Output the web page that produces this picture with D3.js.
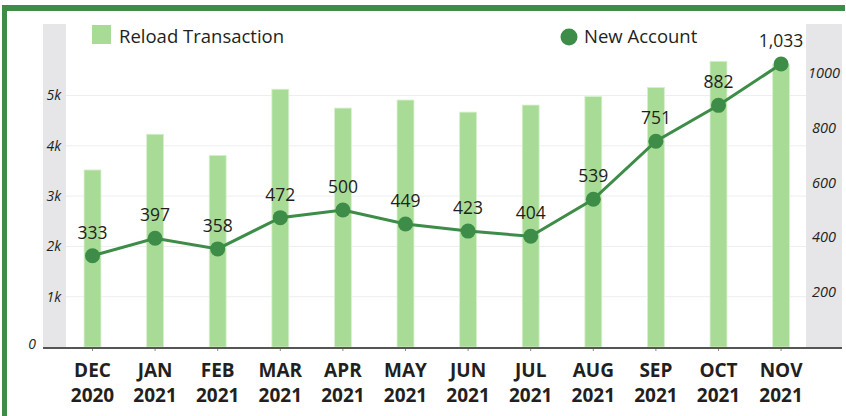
<!DOCTYPE html>
<html><head><meta charset="utf-8">
<script src="https://cdn.jsdelivr.net/npm/d3@7"></script>
<style>body{margin:0;background:#fff}svg{display:block}text{font-family:"Open Sans",sans-serif;fill:#231f20}</style>
</head><body>
<svg id="c" width="846" height="416"></svg>
<script>
const months = ["DEC","JAN","FEB","MAR","APR","MAY","JUN","JUL","AUG","SEP","OCT","NOV"];
const years = ["2020","2021","2021","2021","2021","2021","2021","2021","2021","2021","2021","2021"];
const reloadTransaction = [3520, 4230, 3810, 5125, 4750, 4910, 4670, 4810, 4980, 5160, 5680, 5620];
const newAccount = [333, 397, 358, 472, 500, 449, 423, 404, 539, 751, 882, 1033];
const leftTicks = [1000, 2000, 3000, 4000, 5000];
const leftTickLabels = ["1k", "2k", "3k", "4k", "5k"];
const zeroLabel = "0";
const rightTicks = [200, 400, 600, 800, 1000];

const svg = d3.select("#c");
const green = "#3d8c47", barCol = "#a8dc96", gray = "#e6e6e8";
const baseY = 347, topY = 24;

const x = d3.scaleBand().domain(months.map((m,i)=>i)).range([61.2, 812.4]).paddingInner(0.73).paddingOuter(0.365);
const yL = d3.scaleLinear().domain([0, 5000]).range([baseY, 95.5]);
const yR = d3.scaleLinear().domain([0, 1000]).range([baseY, 73]);

// frame
svg.append("rect").attr("x", 2).attr("y", 5).attr("width", 5).attr("height", 420).attr("fill", green);
svg.append("rect").attr("x", 2).attr("y", 5).attr("width", 843).attr("height", 6).attr("fill", green);

// gray side bands
svg.append("rect").attr("x", 43).attr("y", topY).attr("width", 23).attr("height", baseY - topY).attr("fill", gray);
svg.append("rect").attr("x", 806).attr("y", topY).attr("width", 36).attr("height", baseY - topY).attr("fill", gray);

// gridlines
svg.append("g").selectAll("line").data(leftTicks).join("line")
  .attr("x1", 66).attr("x2", 806).attr("y1", d=>yL(d)).attr("y2", d=>yL(d))
  .attr("stroke", "#eeeeee").attr("stroke-width", 1);

// left axis labels
svg.append("g").selectAll("text").data(leftTicks).join("text")
  .attr("x", 61).attr("y", d=>yL(d)).attr("dy", "0.35em").attr("text-anchor", "end")
  .attr("font-size", 14).attr("font-style", "italic").text((d,i)=>leftTickLabels[i]);
svg.append("text").attr("x", 36).attr("y", yL(0) - 3).attr("dy", "0.35em").attr("text-anchor", "end")
  .attr("font-size", 14).attr("font-style", "italic").text(zeroLabel);

// right axis labels
svg.append("g").selectAll("text").data(rightTicks).join("text")
  .attr("x", 824).attr("y", d=>yR(d)).attr("dy", "0.35em").attr("text-anchor", "middle")
  .attr("font-size", 14.5).attr("font-style", "italic").text(d=>d);

// bars
svg.append("g").selectAll("rect").data(reloadTransaction).join("rect")
  .attr("x", (d,i)=>x(i)).attr("width", x.bandwidth())
  .attr("y", d=>yL(d)).attr("height", d=>baseY - yL(d))
  .attr("fill", barCol).attr("stroke", "#d8f0cf").attr("stroke-width", 0.8);

// baseline
svg.append("line").attr("x1", 43).attr("x2", 842).attr("y1", baseY+1).attr("y2", baseY+1)
  .attr("stroke", "#555").attr("stroke-width", 2);
svg.append("g").selectAll("line").data(months).join("line")
  .attr("x1", (d,i)=>x(i)+x.bandwidth()/2).attr("x2", (d,i)=>x(i)+x.bandwidth()/2)
  .attr("y1", baseY+2).attr("y2", baseY+4).attr("stroke", "#888").attr("stroke-width", 1);

// x labels
const xl = svg.append("g").selectAll("text").data(months).join("text")
  .attr("x", (d,i)=>x(i)+x.bandwidth()/2).attr("text-anchor", "middle")
  .attr("font-size", 19).attr("font-weight", 700);
xl.append("tspan").attr("x", (d,i)=>x(i)+x.bandwidth()/2).attr("y", 377).text(d=>d);
xl.append("tspan").attr("x", (d,i)=>x(i)+x.bandwidth()/2).attr("y", 402).text((d,i)=>years[i]);

// line
const cx = i => x(i) + x.bandwidth()/2;
svg.append("path").datum(newAccount)
  .attr("d", d3.line().x((d,i)=>cx(i)).y(d=>yR(d)))
  .attr("fill", "none").attr("stroke", green).attr("stroke-width", 3);
svg.append("g").selectAll("circle").data(newAccount).join("circle")
  .attr("cx", (d,i)=>cx(i)).attr("cy", d=>yR(d)).attr("r", 7.5).attr("fill", green);
svg.append("g").selectAll("text").data(newAccount).join("text")
  .attr("x", (d,i)=>cx(i)).attr("y", d=>yR(d) - 17).attr("text-anchor", "middle")
  .attr("font-size", 17.5).text(d=>d3.format(",")(d));

// legend
svg.append("rect").attr("x", 92).attr("y", 25).attr("width", 19).attr("height", 19).attr("fill", barCol);
svg.append("text").attr("x", 119).attr("y", 43).attr("font-size", 18.5).text("Reload Transaction");
svg.append("circle").attr("cx", 569).attr("cy", 37).attr("r", 8.5).attr("fill", green);
svg.append("text").attr("x", 584).attr("y", 43).attr("font-size", 18.5).text("New Account");
</script>
</body></html>
